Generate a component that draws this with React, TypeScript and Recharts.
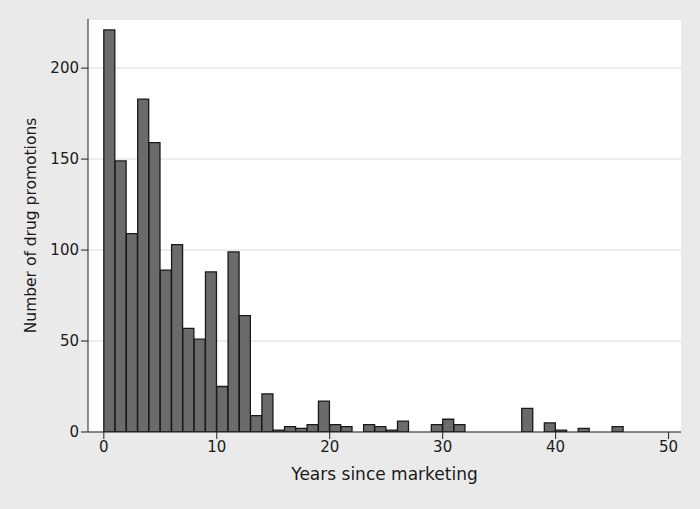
import React from 'react';
import { ComposedChart, Bar, XAxis, YAxis, CartesianGrid, Label } from 'recharts';

// Histogram bins: [year, year+1)
const binStarts: number[] = Array.from({ length: 46 }, (_, i) => i);
const counts: number[] = [
  221, 149, 109, 183, 159, 89, 103, 57, 51, 88,
  25, 99, 64, 9, 21, 1, 3, 2, 4, 17,
  4, 3, 0, 4, 3, 1, 6, 0, 0, 4,
  7, 4, 0, 0, 0, 0, 0, 13, 0, 5,
  1, 0, 2, 0, 0, 3,
];
const xTicks: number[] = [0, 10, 20, 30, 40, 50];
const yTicks: number[] = [0, 50, 100, 150, 200];

const data = binStarts.map((s, i) => ({ mid: s + 0.5, count: counts[i] }));

const FONT = 'DejaVu Sans, Liberation Sans, Arial, sans-serif';

export default function App() {
  return (
    <div style={{ position: 'absolute', left: 0, top: 0, width: 700, height: 509, background: '#eaeaea' }}>
      <ComposedChart
        width={700}
        height={509}
        data={data}
        margin={{ top: 19, right: 19, bottom: 0, left: 0 }}
        barCategoryGap={0}
        barGap={0}
      >
        <CartesianGrid vertical={false} horizontal={true} stroke="#dcdcdc" fill="#ffffff" />
        <XAxis
          dataKey="mid"
          type="number"
          domain={[-1.4, 51.1]}
          ticks={xTicks}
          allowDataOverflow
          height={77}
          tickLine={{ stroke: '#222' }}
          axisLine={{ stroke: '#222' }}
          tickSize={7}
          tick={{ fill: '#1a1a1a', fontSize: 15, fontFamily: FONT }}
          tickMargin={2}
        >
          <Label
            value="Years since marketing"
            position="insideBottom"
            offset={29}
            style={{ fill: '#1a1a1a', fontSize: 17, fontFamily: FONT }}
          />
        </XAxis>
        <YAxis
          type="number"
          domain={[0, 227]}
          ticks={yTicks}
          allowDataOverflow
          width={88}
          tickLine={{ stroke: '#222' }}
          axisLine={{ stroke: '#222' }}
          tickSize={7}
          tick={{ fill: '#1a1a1a', fontSize: 15, fontFamily: FONT }}
          tickMargin={2}
        >
          <Label
            value="Number of drug promotions"
            angle={-90}
            position="insideLeft"
            offset={30}
            style={{ fill: '#1a1a1a', fontSize: 15.5, fontFamily: FONT, textAnchor: 'middle' }}
          />
        </YAxis>
        <Bar
          dataKey="count"
          fill="#6b6b6b"
          stroke="#1a1a1a"
          strokeWidth={1.3}
          isAnimationActive={false}
        />
      </ComposedChart>
    </div>
  );
}
